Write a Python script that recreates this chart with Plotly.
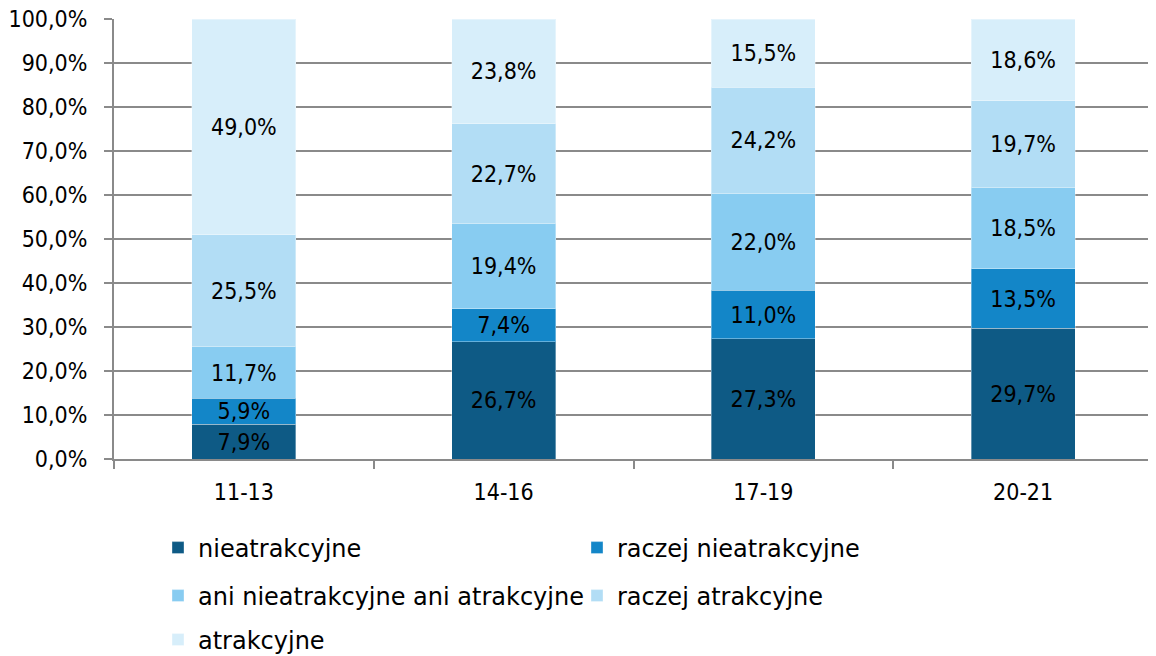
import plotly.graph_objects as go

categories = ["11-13", "14-16", "17-19", "20-21"]
nieatrakcyjne = [7.9, 26.7, 27.3, 29.7]
raczej_nieatrakcyjne = [5.9, 7.4, 11.0, 13.5]
ani_ani = [11.7, 19.4, 22.0, 18.5]
raczej_atrakcyjne = [25.5, 22.7, 24.2, 19.7]
atrakcyjne = [49.0, 23.8, 15.5, 18.6]

series = [
    ("nieatrakcyjne", nieatrakcyjne, "#0e5a85", "legend"),
    ("raczej nieatrakcyjne", raczej_nieatrakcyjne, "#1386c8", "legend"),
    ("ani nieatrakcyjne ani atrakcyjne", ani_ani, "#88ccf1", "legend2"),
    ("raczej atrakcyjne", raczej_atrakcyjne, "#b2ddf5", "legend2"),
    ("atrakcyjne", atrakcyjne, "#d7eefa", "legend3"),
]

NUM_FONT = dict(family="DejaVu Sans Condensed", size=23, color="#000000")
LEG_FONT = dict(family="DejaVu Sans", size=24, color="#000000")
GRID = "#8a8a8a"

# the page body keeps its default 8px margin, so the figure is 8px smaller
W, H = 1148, 648


def pct(v):
    return f"{v:.1f}%".replace(".", ",")


fig = go.Figure()
for name, vals, color, leg in series:
    fig.add_trace(go.Bar(
        x=categories, y=vals, name=name, legend=leg,
        marker=dict(color=color, line=dict(color="rgba(255,255,255,0.35)", width=1)),
        text=[pct(v) for v in vals],
        textposition="inside", insidetextanchor="middle", textangle=0,
        textfont=NUM_FONT,
        width=0.4,
    ))

legend_common = dict(
    orientation="h", xref="container", yref="container",
    xanchor="left", yanchor="middle",
    font=LEG_FONT,
    entrywidth=374, entrywidthmode="pixels",
    bgcolor="rgba(0,0,0,0)", traceorder="normal",
)

fig.update_layout(
    barmode="stack",
    width=W, height=H,
    margin=dict(l=106, r=3, t=11, b=197),
    paper_bgcolor="white", plot_bgcolor="white",
    font=NUM_FONT,
    uniformtext=dict(minsize=20, mode="show"),
    legend=dict(x=150 / W, y=1 - 540 / H, **legend_common),
    legend2=dict(x=150 / W, y=1 - 588 / H, **legend_common),
    legend3=dict(x=150 / W, y=1 - 632 / H, **legend_common),
)

fig.update_yaxes(
    range=[0, 100], tickvals=list(range(0, 101, 10)),
    ticktext=[pct(v) for v in range(0, 101, 10)],
    showgrid=True, gridcolor=GRID, gridwidth=2,
    showline=True, linecolor=GRID, linewidth=2,
    ticks="outside", ticklen=8, tickcolor=GRID, tickwidth=2,
    ticklabelstandoff=12, ticklabeloverflow="allow",
    zeroline=False, automargin=False,
    tickfont=NUM_FONT,
)
fig.update_xaxes(
    type="category",
    showline=True, linecolor=GRID, linewidth=2,
    ticks="outside", tickson="boundaries", ticklen=8, tickcolor=GRID, tickwidth=2,
    ticklabelstandoff=11, automargin=False,
    tickfont=NUM_FONT,
)

fig.write_html("out.html")
